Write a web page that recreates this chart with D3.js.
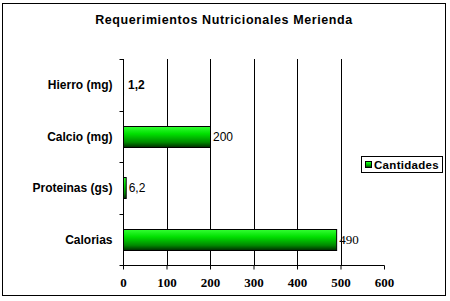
<!DOCTYPE html>
<html><head><meta charset="utf-8">
<script src="https://cdn.jsdelivr.net/npm/d3@7/dist/d3.min.js"></script>
<style>body{margin:0;background:#fff}svg{display:block}</style>
</head><body>
<script>
const categories = ["Hierro (mg)", "Calcio (mg)", "Proteinas (gs)", "Calorias"];
const values = [1.2, 200, 6.2, 490];
const valueLabels = ["1,2", "200", "6,2", "490"];
const xTicks = [0, 100, 200, 300, 400, 500, 600];
const seriesName = "Cantidades";
const title = "Requerimientos Nutricionales Merienda";

const W = 450, H = 301;
const svg = d3.select("body").append("svg").attr("width", W).attr("height", H);
const defs = svg.append("defs");
const grad = defs.append("linearGradient").attr("id", "g").attr("x1", 0).attr("y1", 0).attr("x2", 0).attr("y2", 1);
grad.append("stop").attr("offset", "0%").attr("stop-color", "#33ff33");
grad.append("stop").attr("offset", "35%").attr("stop-color", "#00e000");
grad.append("stop").attr("offset", "75%").attr("stop-color", "#008a00");
grad.append("stop").attr("offset", "100%").attr("stop-color", "#002a00");

svg.append("rect").attr("x", 2.5).attr("y", 3.5).attr("width", 443).attr("height", 292)
  .attr("fill", "#fff").attr("stroke", "#000").attr("stroke-width", 1);

svg.append("text").attr("x", 224).attr("y", 24).attr("text-anchor", "middle")
  .attr("font-family", "Liberation Sans, Arial, sans-serif").attr("font-weight", "bold")
  .attr("font-size", 12.5).attr("letter-spacing", 0.6).text(title);

const pLeft = 123, pRight = 384, pTop = 59, pBottom = 265;
const x = d3.scaleLinear().domain([0, 600]).range([pLeft, pRight]);
const y = d3.scaleBand().domain(categories).range([pTop, pBottom]).paddingInner(0.6).paddingOuter(0.3);
const yb = d3.scaleBand().domain(categories).range([pTop, pBottom]);

// gridlines
svg.append("g").selectAll("line").data(xTicks.slice(1, -1)).join("line")
  .attr("x1", d => Math.round(x(d)) + 0.5).attr("x2", d => Math.round(x(d)) + 0.5)
  .attr("y1", pTop).attr("y2", pBottom).attr("stroke", "#000");

// bars
svg.append("g").selectAll("rect").data(categories).join("rect")
  .attr("x", pLeft + 0.5).attr("y", d => Math.round(y(d)) + 0.5)
  .attr("width", (d, i) => x(values[i]) - pLeft)
  .attr("height", Math.round(y.bandwidth()))
  .attr("fill", "url(#g)").attr("stroke", "#000").attr("stroke-width", (d, i) => values[i] < 3 ? 0 : 1);

// value labels
svg.append("g").selectAll("text").data(categories).join("text")
  .attr("x", (d, i) => Math.max(128, x(values[i]) + 3)).attr("y", d => yb(d) + yb.bandwidth() / 2 + 4.5)
  .attr("font-family", (d, i) => i === 3 ? "Liberation Serif, serif" : "Liberation Sans, Arial, sans-serif")
  .attr("font-size", (d, i) => i === 3 ? 13 : 12)
  .attr("font-weight", (d, i) => i === 0 ? "bold" : "normal")
  .text((d, i) => valueLabels[i]);

// x axis
const xa = svg.append("g").attr("transform", `translate(0,${pBottom + 0.5})`)
  .call(d3.axisBottom(x).tickValues(xTicks).tickSize(4).tickPadding(8).tickFormat(d3.format("d")));
xa.select(".domain").attr("d", `M${pLeft},0H${pRight + 0.5}`).attr("stroke", "#000");
xa.selectAll(".tick line").attr("stroke", "#000");
xa.selectAll(".tick text").attr("font-family", "Liberation Serif, Times New Roman, serif")
  .attr("font-weight", "bold").attr("font-size", 13).attr("fill", "#000");

// y axis
const ya = svg.append("g").attr("transform", `translate(${pLeft + 0.5},0)`);
ya.append("line").attr("x1", 0).attr("x2", 0).attr("y1", pTop).attr("y2", pBottom + 0.5).attr("stroke", "#000");
const bounds = categories.map(c => yb(c)).concat([pBottom]);
ya.selectAll("line.t").data(bounds).join("line").attr("class", "t")
  .attr("x1", -4).attr("x2", 0).attr("y1", d => Math.round(d) + 0.5).attr("y2", d => Math.round(d) + 0.5).attr("stroke", "#000");
ya.selectAll("text").data(categories).join("text")
  .attr("x", -11).attr("y", d => yb(d) + yb.bandwidth() / 2 + 4.5).attr("text-anchor", "end")
  .attr("font-family", "Liberation Sans, Arial, sans-serif").attr("font-weight", "bold").attr("font-size", 12)
  .text(d => d);

// legend
const lg = svg.append("g");
lg.append("rect").attr("x", 361.5).attr("y", 156.5).attr("width", 81).attr("height", 16)
  .attr("fill", "#fff").attr("stroke", "#000");
lg.append("rect").attr("x", 365.5).attr("y", 161.5).attr("width", 6).attr("height", 6)
  .attr("fill", "url(#g)").attr("stroke", "#000");
lg.append("text").attr("x", 374).attr("y", 169).attr("font-family", "Liberation Sans, Arial, sans-serif")
  .attr("font-weight", "bold").attr("font-size", 11.5).attr("letter-spacing", 0.3).text(seriesName);
</script>
</body></html>
